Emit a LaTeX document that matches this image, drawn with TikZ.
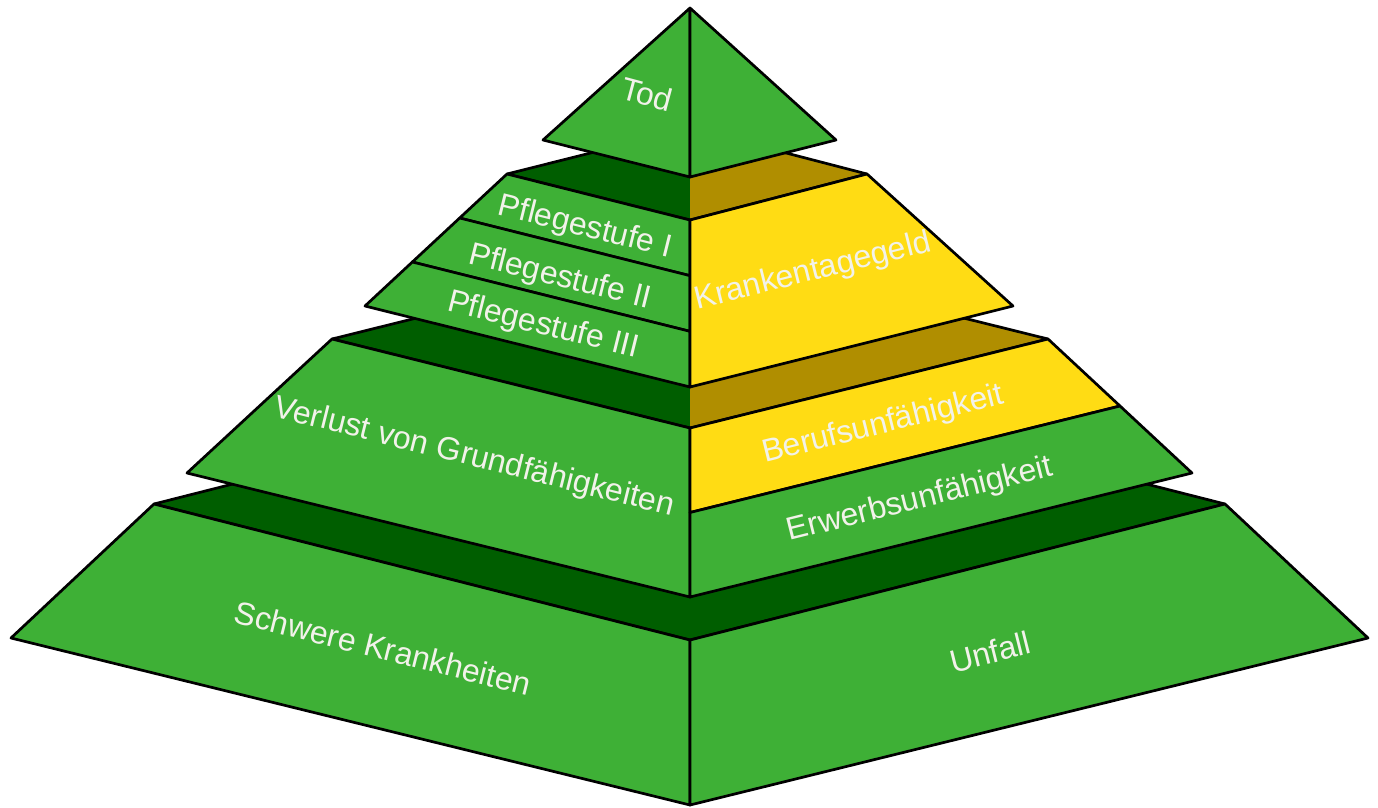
\documentclass[tikz,border=0pt]{standalone}
\usepackage{fontspec}
\setmainfont{Liberation Sans}
\usetikzlibrary{calc}
\definecolor{lgreen}{RGB}{62,176,54}
\definecolor{dgreen}{RGB}{0,94,0}
\definecolor{lyellow}{RGB}{255,220,20}
\definecolor{dyellow}{RGB}{176,142,0}
\definecolor{lbltext}{RGB}{242,242,234}
\tikzstyle{face}=[draw=black,line width=2.7pt,line join=round]
\tikzstyle{edge}=[draw=black,line width=2.7pt,line join=round]
\tikzstyle{lbl}=[text=lbltext,font=\fontsize{32}{37}\selectfont,inner sep=0pt]

\begin{document}
\begin{tikzpicture}[x=1pt,y=-1pt]
\useasboundingbox (0,0) rectangle (1378,807);
% corners of the four stages
\coordinate (T) at (690,8);\coordinate (TL) at (543,140);\coordinate (TR) at (836,140);\coordinate (TF) at (690,177);
\coordinate (PtL) at (507,174);\coordinate (PtR) at (867,174);\coordinate (PtF) at (690,220);\coordinate (PtB) at (690,128);
\coordinate (PbL) at (365,306);\coordinate (PbR) at (1013,306);\coordinate (PbF) at (690,387);
\coordinate (VtL) at (332,339);\coordinate (VtR) at (1048,339);\coordinate (VtF) at (690,428);\coordinate (VtB) at (690,250);
\coordinate (VbL) at (187,473);\coordinate (VbR) at (1192,473);\coordinate (VbF) at (690,597);
\coordinate (StL) at (154,504);\coordinate (StR) at (1225,504);\coordinate (StF) at (690,640);\coordinate (StB) at (690,368);
\coordinate (SbL) at (11,638);\coordinate (SbR) at (1368,638);\coordinate (SbF) at (690,805);

% bottom stage
\fill[dgreen](StL)--(StB)--(StF)--cycle;\fill[dgreen](StR)--(StB)--(StF)--cycle;
\draw[edge](StL)--(StB)--(StR)--(StF)--cycle;
\draw[face,fill=lgreen](StL)--(StF)--(SbF)--(SbL)--cycle;
\draw[face,fill=lgreen](StR)--(StF)--(SbF)--(SbR)--cycle;
\node[lbl,rotate=-14] (schwer) at (383,648) {Schwere Krankheiten};
\node[lbl,rotate=14] (unfall) at (990,652) {Unfall};

% third stage
\fill[dgreen](VtL)--(VtB)--(VtF)--cycle;\fill[dyellow](VtR)--(VtB)--(VtF)--cycle;
\draw[edge](VtL)--(VtB)--(VtR)--(VtF)--cycle;
\coordinate (VmR) at ($(VtR)!.5!(VbR)$);\coordinate (VmF) at ($(VtF)!.5!(VbF)$);
\draw[face,fill=lgreen](VtL)--(VtF)--(VbF)--(VbL)--cycle;
\draw[face,fill=lyellow](VtR)--(VtF)--(VmF)--(VmR)--cycle;
\draw[face,fill=lgreen](VmR)--(VmF)--(VbF)--(VbR)--cycle;
\node[lbl,rotate=-14] (verlust) at (474,458) {Verlust von Grundfähigkeiten};
\node[lbl,rotate=14] (beruf) at (883,425) {Berufsunfähigkeit};
\node[lbl,rotate=14] (erwerb) at (920,500) {Erwerbsunfähigkeit};

% second stage
\fill[dgreen](PtL)--(PtB)--(PtF)--cycle;\fill[dyellow](PtR)--(PtB)--(PtF)--cycle;
\draw[edge](PtL)--(PtB)--(PtR)--(PtF)--cycle;
\coordinate (P1L) at ($(PtL)!1/3!(PbL)$);\coordinate (P1F) at ($(PtF)!1/3!(PbF)$);
\coordinate (P2L) at ($(PtL)!2/3!(PbL)$);\coordinate (P2F) at ($(PtF)!2/3!(PbF)$);
\draw[face,fill=lgreen](PtL)--(PtF)--(P1F)--(P1L)--cycle;
\draw[face,fill=lgreen](P1L)--(P1F)--(P2F)--(P2L)--cycle;
\draw[face,fill=lgreen](P2L)--(P2F)--(PbF)--(PbL)--cycle;
\draw[face,fill=lyellow](PtR)--(PtF)--(PbF)--(PbR)--cycle;
\node[lbl,rotate=-14] (pfl1) at (585,228) {Pflegestufe I};
\node[lbl,rotate=-14] (pfl2) at (560,278) {Pflegestufe II};
\node[lbl,rotate=-14] (pfl3) at (543,326) {Pflegestufe III};
\node[lbl,rotate=14] (ktg) at (813,272) {Krankentagegeld};

% top
\draw[face,fill=lgreen](T)--(TL)--(TF)--cycle;
\draw[face,fill=lgreen](T)--(TR)--(TF)--cycle;
\node[lbl,rotate=-15] (tod) at (647,94) {Tod};
\end{tikzpicture}
\end{document}
